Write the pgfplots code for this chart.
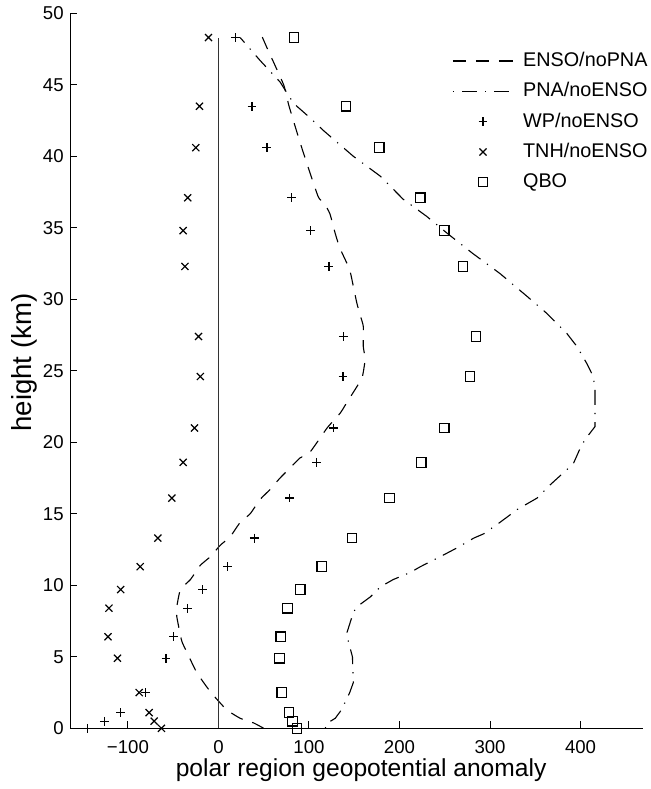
\documentclass[border=0pt]{standalone}
\usepackage{pgfplots}
\pgfplotsset{compat=1.18}
\usepackage{fontspec}
\setmainfont{Liberation Sans}
\begin{document}
\begin{tikzpicture}
\begin{axis}[
  scale only axis, width=286.5pt, height=357.5pt,
  xmin=-164, xmax=469, ymin=0, ymax=50,
  axis x line*=bottom, axis y line*=left,
  axis line style={line width=0.5pt,-},
  tick align=inside, major tick length=3.5pt,
  tick style={line width=0.5pt, black},
  xtick={-100,0,100,200,300,400},
  xticklabels={−100,0,100,200,300,400},
  ytick={0,5,...,50},
  /pgf/number format/assume math mode=true,
  tick label style={font=\fontsize{9.3}{11}\selectfont},
  xticklabel style={anchor=base, yshift=-12.5pt},
  yticklabel style={anchor=east, inner sep=0pt, xshift=-3pt},
  xlabel={polar region geopotential anomaly},
  ylabel={height (km)},
  xlabel style={font=\fontsize{12.3}{14}\selectfont, at={(axis description cs:0.508,-0.0677)}, anchor=base, inner sep=0pt},
  ylabel style={font=\fontsize{13.8}{15}\selectfont, at={(axis description cs:-0.102,0.5116)}, anchor=north, inner sep=0pt},
  legend image code/.code={\draw[mark repeat=2,mark phase=2,#1] plot coordinates {(0pt,0pt) (15pt,0pt) (30pt,0pt)};},
  legend style={draw=none, fill=none, inner sep=0pt, row sep=6.5pt,
    nodes={inner sep=0pt},
    /tikz/every odd column/.append style={column sep=4.8pt},
    font=\fontsize{9.9}{11}\selectfont,
    at={(rel axis cs:0.6667,0.946)}, anchor=north west},
  legend cell align=left,
  every axis plot/.append style={line width=0.55pt, black},
]
\addplot[dash pattern=on 6.5pt off 5pt, smooth, tension=0.3] coordinates {
(50,0) (39,0.37) (24,0.7) (9,1.3) (-5.5,2.3) (-13,2.9) (-24,3.9) (-31,4.8) (-40,6) (-42,6.5) (-46,7.8) (-46,8.5) (-42,9.7) (-31,10.4) (-20,11.4) (-9,12) (2,12.8) (13,13.4) (24,14.4) (35,15) (46,16) (57,16.7) (68,17.5) (79,18.2) (90,18.9) (101,19.3) (120,21) (134.6,22.05) (142,22.8) (153,23.9) (159,24.6) (162,25.8) (160,26.7) (160,28.1) (157,28.8) (153,29.7) (149,30.9) (146,31.8) (142,32.5) (134,33.6) (129,34.6) (123,36) (116,36.8) (110,37.2) (92,40.6) (78,43.5) (72,45) (53.5,47.6) (48,48.4)
};
\addlegendentry{ENSO/noPNA}
\addplot[dash pattern=on 0.6pt off 4pt on 7.5pt off 4pt] coordinates {
(118,0) (120,0.35) (129,0.7) (136,1.3) (145,2.5) (149,3.2) (148,5) (143,6.2) (142,6.7) (149,8.1) (153,8.5) (168,9.2) (179,9.9) (193,10.4) (212,10.9) (223,11.3) (245,12) (263,12.6) (282,13.3) (293,13.6) (311,14.4) (330,15.3) (352,16.1) (366,17) (392,18.5) (399,19.5) (405,20.2) (416,21.1) (416,23.7) (414,24.6) (407,25.5) (396,26.7) (385,27.6) (363,29) (341,30.2) (311,31.8) (281,33.2) (253,34.6) (230,35.8) (204,37) (179,38.6) (149,40) (116,41.8) (101,42.7) (83,43.7) (68,45.2) (46,46.7) (24,48.3)
};
\addlegendentry{PNA/noENSO}
\addplot[only marks, mark=+, mark size=2.2pt, line width=0.62pt] coordinates {
(18.5,48.3) (37,43.5) (53.5,40.6) (81,37.1) (102,34.8) (122,32.3) (138,27.4) (137.5,24.6) (127,21.0) (108.7,18.6) (78.5,16.1) (39.5,13.3) (10.4,11.3) (-17.3,9.7) (-34.3,8.4) (-49.7,6.4) (-58,4.9) (-81,2.5) (-108,1.1) (-126,0.5) (-145,0)
};
\addlegendentry{WP/noENSO}
\addplot[only marks, mark=x, mark size=2.5pt, line width=0.6pt] coordinates {
(-11,48.3) (-21,43.5) (-25,40.6) (-34,37.1) (-39,34.8) (-37,32.3) (-22,27.4) (-20,24.6) (-26.5,21.0) (-39,18.6) (-51.5,16.1) (-67,13.3) (-86.5,11.3) (-108,9.7) (-121,8.4) (-122,6.4) (-111.6,4.9) (-87.6,2.5) (-76.6,1.1) (-71,0.5) (-63,0)
};
\addlegendentry{TNH/noENSO}
\addplot[only marks, mark=square, mark size=2.4pt, line width=0.55pt] coordinates {
(83.6,48.3) (141,43.5) (177.6,40.6) (222.9,37.1) (249.4,34.8) (270,32.3) (284.4,27.4) (278,24.6) (249.4,21.0) (224,18.6) (189,16.1) (147.4,13.3) (114.2,11.3) (90.3,9.7) (76.2,8.4) (68.9,6.4) (67.4,4.9) (70,2.5) (77.8,1.1) (81.8,0.5) (86.6,0)
};
\addlegendentry{QBO}
\addplot[black!80, line width=0.7pt, forget plot] coordinates {(0,0) (0,48.3)};
\coordinate (SW) at (rel axis cs:0,0);
\coordinate (NE) at (rel axis cs:1,1);
\end{axis}
\pgfresetboundingbox
\path ([shift={(-35pt,-30.35pt)}]SW) rectangle ([shift={(3.5pt,6.65pt)}]NE);
\end{tikzpicture}
\end{document}
